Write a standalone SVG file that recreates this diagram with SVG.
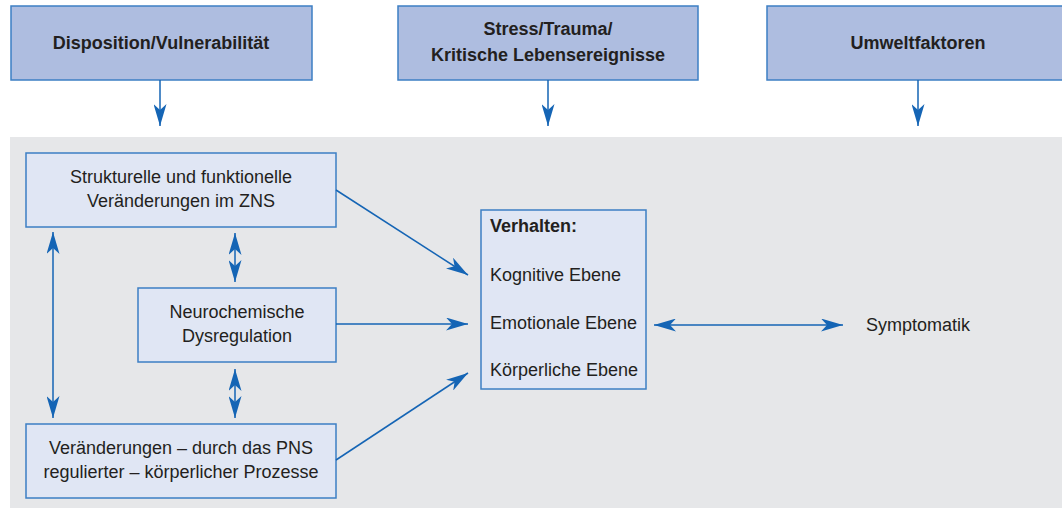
<svg xmlns="http://www.w3.org/2000/svg" width="1062" height="508" viewBox="0 0 1062 508">
<style>
.top{fill:#aebde0;stroke:#3d7fc4;stroke-width:1.5}
.box{fill:#e0e6f4;stroke:#3d7fc4;stroke-width:1.5}
.t{font-family:"Liberation Sans",Arial,sans-serif;font-size:18px;fill:#231f20}
.b{font-weight:bold}
.m{text-anchor:middle}
.c{stroke:#1565b5;stroke-width:1.5;fill:none}
</style>
<defs>
<marker id="ah" viewBox="0 0 22 13" refX="22" refY="6.5" markerWidth="22" markerHeight="13" markerUnits="userSpaceOnUse" orient="auto-start-reverse">
<path d="M0,0 L22,6.5 L0,13 L6,6.5 z" fill="#1565b5"/>
</marker>
</defs>
<rect width="1062" height="508" fill="#ffffff"/>
<rect x="10" y="137" width="1052" height="371" fill="#e6e7e9"/>
<g id="disposition">
<rect class="top" x="11" y="6" width="301" height="74"/>
<text class="t b m" x="161" y="49">Disposition/Vulnerabilität</text>
</g>
<g id="stress">
<rect class="top" x="398" y="6" width="300" height="74"/>
<text class="t b m" x="548" y="35">Stress/Trauma/</text>
<text class="t b m" x="548" y="61">Kritische Lebensereignisse</text>
</g>
<g id="umwelt">
<rect class="top" x="767" y="6" width="300" height="74"/>
<text class="t b m" x="918" y="49">Umweltfaktoren</text>
</g>
<g id="zns">
<rect class="box" x="26" y="153" width="310" height="74"/>
<text class="t m" x="181" y="183">Strukturelle und funktionelle</text>
<text class="t m" x="181" y="207">Veränderungen im ZNS</text>
</g>
<g id="neuro">
<rect class="box" x="138" y="288" width="198" height="74"/>
<text class="t m" x="237" y="318">Neurochemische</text>
<text class="t m" x="237" y="342">Dysregulation</text>
</g>
<g id="pns">
<rect class="box" x="26" y="424" width="310" height="74"/>
<text class="t m" x="181" y="454">Veränderungen – durch das PNS</text>
<text class="t m" x="181" y="478">regulierter – körperlicher Prozesse</text>
</g>
<g id="verhalten">
<rect class="box" x="481" y="210" width="165" height="179"/>
<text class="t b" x="490" y="232">Verhalten:</text>
<text class="t" x="490" y="281">Kognitive Ebene</text>
<text class="t" x="490" y="329">Emotionale Ebene</text>
<text class="t" x="490" y="376">Körperliche Ebene</text>
</g>
<g id="symptomatik">
<text class="t" x="866" y="331">Symptomatik</text>
</g>
<g id="connectors">
<line class="c" x1="160" y1="80" x2="160" y2="126" marker-end="url(#ah)"/>
<line class="c" x1="548" y1="80" x2="548" y2="126" marker-end="url(#ah)"/>
<line class="c" x1="918" y1="80" x2="918" y2="126" marker-end="url(#ah)"/>
<line class="c" x1="53" y1="232" x2="53" y2="418" marker-start="url(#ah)" marker-end="url(#ah)"/>
<line class="c" x1="235" y1="233" x2="235" y2="282" marker-start="url(#ah)" marker-end="url(#ah)"/>
<line class="c" x1="235" y1="369" x2="235" y2="418" marker-start="url(#ah)" marker-end="url(#ah)"/>
<line class="c" x1="336" y1="190" x2="468" y2="275" marker-end="url(#ah)"/>
<line class="c" x1="336" y1="324" x2="468" y2="324" marker-end="url(#ah)"/>
<line class="c" x1="336" y1="460" x2="468" y2="373" marker-end="url(#ah)"/>
<line class="c" x1="654" y1="325" x2="843" y2="325" marker-start="url(#ah)" marker-end="url(#ah)"/>
</g>
</svg>
